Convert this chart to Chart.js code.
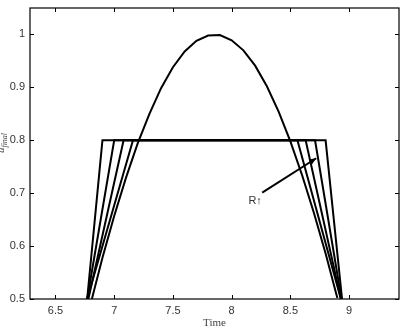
<!DOCTYPE html>
<html>
<head>
<meta charset="utf-8">
<script src="https://cdn.jsdelivr.net/npm/chart.js@4.4.1/dist/chart.umd.min.js"></script>
<style>
  html, body { margin: 0; padding: 0; background: #fff; }
  #wrap { width: 403px; height: 332px; }
</style>
</head>
<body>
<div id="wrap"><canvas id="c" width="403" height="332"></canvas></div>
<script>
// ---- data ----
const sinX = [6.81, 6.9, 7.0, 7.1, 7.2, 7.3, 7.4, 7.5, 7.6, 7.7, 7.8, 7.9, 8.0, 8.1, 8.2, 8.3, 8.4, 8.5, 8.6, 8.7, 8.8, 8.9];
const sinY = [0.50, 0.578, 0.657, 0.729, 0.794, 0.850, 0.899, 0.938, 0.968, 0.988, 0.998, 0.999, 0.989, 0.970, 0.941, 0.902, 0.854, 0.798, 0.734, 0.663, 0.586, 0.502];

const trapAX = [6.77, 6.90, 8.80, 8.94];
const trapAY = [0.5, 0.8, 0.8, 0.5];
const trapBX = [6.77, 7.00, 8.71, 8.935];
const trapBY = [0.5, 0.8, 0.8, 0.5];
const trapCX = [6.78, 7.08, 8.63, 8.93];
const trapCY = [0.5, 0.8, 0.8, 0.5];
const trapDX = [6.77, 7.16, 8.56, 8.93];
const trapDY = [0.5, 0.8, 0.8, 0.5];

const arrowX = [8.26, 8.72];
const arrowY = [0.701, 0.766];
const annotText = 'R\u2191';
const annotX = 8.2;
const annotY = 0.686;

const xTicks = [6.5, 7, 7.5, 8, 8.5, 9];
const xTickLabels = ['6.5', '7', '7.5', '8', '8.5', '9'];
const yTicks = [0.5, 0.6, 0.7, 0.8, 0.9, 1];
const yTickLabels = ['0.5', '0.6', '0.7', '0.8', '0.9', '1'];
const xRange = [6.2832, 9.4248];
const yRange = [0.5, 1.05];
const xTitle = 'Time';
const yTitleMain = 'u';
const yTitleSub = 'final';

function pts(xs, ys) { return xs.map((x, i) => ({ x: x, y: ys[i] })); }

const lineStyle = { borderColor: '#000', borderWidth: 2, pointRadius: 0, tension: 0, fill: false };

const framePlugin = {
  id: 'frame',
  afterDatasetsDraw(chart) {
    const { ctx, chartArea: a, scales } = chart;
    ctx.save();
    // arrow head
    const x0 = scales.x.getPixelForValue(arrowX[0]), y0 = scales.y.getPixelForValue(arrowY[0]);
    const x1 = scales.x.getPixelForValue(arrowX[1]), y1 = scales.y.getPixelForValue(arrowY[1]);
    const ang = Math.atan2(y1 - y0, x1 - x0);
    const L = 7, W = 3;
    ctx.fillStyle = '#000';
    ctx.beginPath();
    ctx.moveTo(x1, y1);
    ctx.lineTo(x1 - L * Math.cos(ang) + W * Math.sin(ang), y1 - L * Math.sin(ang) - W * Math.cos(ang));
    ctx.lineTo(x1 - L * Math.cos(ang) - W * Math.sin(ang), y1 - L * Math.sin(ang) + W * Math.cos(ang));
    ctx.closePath();
    ctx.fill();
    // annotation text
    ctx.fillStyle = '#333';
    ctx.font = '11px "Liberation Sans", Arial, sans-serif';
    ctx.textAlign = 'center';
    ctx.textBaseline = 'middle';
    ctx.fillText(annotText, scales.x.getPixelForValue(annotX), scales.y.getPixelForValue(annotY));
    // frame
    ctx.strokeStyle = '#000';
    ctx.lineWidth = 1.2;
    ctx.strokeRect(a.left, a.top, a.right - a.left, a.bottom - a.top);
    // inward ticks
    ctx.lineWidth = 1;
    ctx.beginPath();
    xTicks.forEach(v => {
      const px = Math.round(scales.x.getPixelForValue(v)) + 0.5;
      ctx.moveTo(px, a.bottom); ctx.lineTo(px, a.bottom - 4);
      ctx.moveTo(px, a.top); ctx.lineTo(px, a.top + 4);
    });
    yTicks.forEach(v => {
      const py = Math.round(scales.y.getPixelForValue(v)) + 0.5;
      ctx.moveTo(a.left, py); ctx.lineTo(a.left + 4, py);
      ctx.moveTo(a.right, py); ctx.lineTo(a.right - 4, py);
    });
    ctx.stroke();
    // x title
    ctx.fillStyle = '#444';
    ctx.font = '11px "Liberation Serif", "Times New Roman", serif';
    ctx.textAlign = 'center';
    ctx.textBaseline = 'alphabetic';
    ctx.fillText(xTitle, (a.left + a.right) / 2, 326);
    // y title (rotated, partially clipped at left edge)
    ctx.translate(4, 143);
    ctx.rotate(-Math.PI / 2);
    ctx.font = 'italic 11px "Liberation Serif", "Times New Roman", serif';
    ctx.textAlign = 'left';
    const wMain = ctx.measureText(yTitleMain).width;
    ctx.font = 'italic 8px "Liberation Serif", "Times New Roman", serif';
    const wSub = ctx.measureText(yTitleSub).width;
    const start = -(wMain + wSub) / 2;
    ctx.font = 'italic 11px "Liberation Serif", "Times New Roman", serif';
    ctx.fillText(yTitleMain, start, 0);
    ctx.font = 'italic 8px "Liberation Serif", "Times New Roman", serif';
    ctx.fillText(yTitleSub, start + wMain, 3);
    ctx.restore();
  }
};

new Chart(document.getElementById('c'), {
  type: 'line',
  data: {
    datasets: [
      Object.assign({ data: pts(sinX, sinY) }, lineStyle),
      Object.assign({ data: pts(trapAX, trapAY) }, lineStyle),
      Object.assign({ data: pts(trapBX, trapBY) }, lineStyle),
      Object.assign({ data: pts(trapCX, trapCY) }, lineStyle),
      Object.assign({ data: pts(trapDX, trapDY) }, lineStyle),
      Object.assign({ data: pts(arrowX, arrowY) }, lineStyle)
    ]
  },
  options: {
    responsive: false,
    animation: false,
    events: [],
    layout: { padding: { top: 8, right: 4, left: 0, bottom: 0 } },
    plugins: { legend: { display: false }, tooltip: { enabled: false } },
    scales: {
      x: {
        type: 'linear',
        min: xRange[0], max: xRange[1],
        grid: { display: false, drawTicks: false, tickLength: 0 },
        border: { display: false },
        afterBuildTicks: s => { s.ticks = xTicks.map(v => ({ value: v })); },
        afterFit: s => { s.height = 33; s.paddingLeft = 0; s.paddingRight = 0; },
        ticks: {
          padding: 5,
          color: '#333',
          font: { family: '"Liberation Sans", Arial, sans-serif', size: 11 },
          maxRotation: 0,
          callback: (v, i) => xTickLabels[i]
        }
      },
      y: {
        type: 'linear',
        min: yRange[0], max: yRange[1],
        grid: { display: false, drawTicks: false, tickLength: 0 },
        border: { display: false },
        afterBuildTicks: s => { s.ticks = yTicks.map(v => ({ value: v })); },
        afterFit: s => { s.width = 30; s.paddingTop = 0; s.paddingBottom = 0; },
        ticks: {
          padding: 5,
          color: '#333',
          font: { family: '"Liberation Sans", Arial, sans-serif', size: 11 },
          callback: (v, i) => yTickLabels[i]
        }
      }
    }
  },
  plugins: [framePlugin]
});
</script>
</body>
</html>
